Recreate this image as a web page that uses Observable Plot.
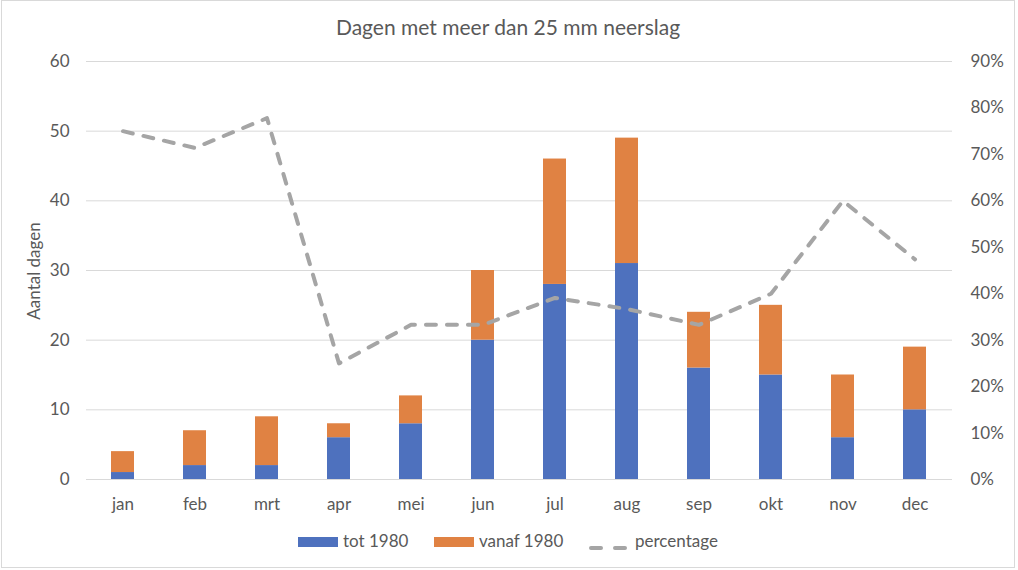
<!DOCTYPE html>
<html>
<head>
<meta charset="utf-8">
<script src="https://cdn.jsdelivr.net/npm/d3@7"></script>
<script src="https://cdn.jsdelivr.net/npm/@observablehq/plot@0.6"></script>
<style>
  html, body { margin: 0; padding: 0; background: #fff; }
  #chart { position: relative; width: 1018px; height: 570px; font-family: Lato, sans-serif; color: #595959; overflow: hidden; }
  #frame { position: absolute; left: 1px; top: 0; width: 1014px; height: 568px; border: 1px solid #d9d9d9; box-sizing: border-box; }
  #title { position: absolute; left: 0; width: 1016px; top: 16px; text-align: center; font-size: 21px; line-height: 21px; white-space: nowrap; }
  #plot { position: absolute; left: 0; top: 0; }
  #ylabel { position: absolute; left: 33px; top: 271px; font-size: 17px; line-height: 17px; white-space: nowrap; transform: translate(-50%, -50%) rotate(-90deg); }
  .leg { position: absolute; top: 532px; font-size: 17px; line-height: 17px; white-space: nowrap; }
  .sw { position: absolute; top: 537px; width: 40px; height: 10px; }
</style>
</head>
<body>
<div id="chart">
  <div id="frame"></div>
  <div id="plot"></div>
  <div id="title"></div>
  <div id="ylabel"></div>
  <div id="legend"></div>
</div>
<script>
const titleText = "Dagen met meer dan 25 mm neerslag";
const yTitle = "Aantal dagen";
const months = ["jan","feb","mrt","apr","mei","jun","jul","aug","sep","okt","nov","dec"];
const seriesNames = ["tot 1980", "vanaf 1980", "percentage"];
const tot1980 = [1, 2, 2, 6, 8, 20, 28, 31, 16, 15, 6, 10];
const vanaf1980 = [3, 5, 7, 2, 4, 10, 18, 18, 8, 10, 9, 9];
const percentage = [75, 71.4, 77.8, 25, 33.3, 33.3, 39.1, 36.7, 33.3, 40, 60, 47.4];
const leftTicks = [0, 10, 20, 30, 40, 50, 60];
const rightTicks = [0, 10, 20, 30, 40, 50, 60, 70, 80, 90];
const colors = ["#4e71be", "#e08243", "#a5a5a5"];

const leftMax = 60, rightMax = 90;
const toLeft = p => p * leftMax / rightMax;

const bars = months.flatMap((m, i) => [
  {month: m, series: seriesNames[0], value: tot1980[i]},
  {month: m, series: seriesNames[1], value: vanaf1980[i]}
]);
const pctData = months.map((m, i) => ({month: m, y: toLeft(percentage[i])}));

const plot = Plot.plot({
  width: 1018, height: 520,
  marginLeft: 86, marginRight: 66, marginTop: 61, marginBottom: 41,
  style: {fontFamily: "Lato, sans-serif", fontSize: "17px", color: "#595959", background: "transparent", overflow: "visible"},
  x: {domain: months, paddingInner: 0.68, paddingOuter: 0.34},
  y: {domain: [0, leftMax]},
  color: {domain: seriesNames.slice(0, 2), range: colors.slice(0, 2)},
  marks: [
    Plot.ruleY(leftTicks, {stroke: "#d9d9d9", strokeWidth: 1}),
    Plot.barY(bars, {x: "month", y: "value", fill: "series"}),
    Plot.line(pctData, {x: "month", y: "y", stroke: colors[2], strokeWidth: 4, strokeDasharray: "10,11", strokeLinecap: "round", strokeLinejoin: "round"}),
    Plot.axisX({tickSize: 0, tickPadding: 18, label: null, fontSize: 17}),
    Plot.axisY({anchor: "left", ticks: leftTicks, tickSize: 0, tickPadding: 17, label: null, fontSize: 17}),
    Plot.axisY({anchor: "right", ticks: rightTicks.map(toLeft), tickFormat: d => Math.round(d * rightMax / leftMax) + "%", tickSize: 0, tickPadding: 18, label: null, fontSize: 17})
  ]
});
document.getElementById("plot").appendChild(plot);
document.getElementById("title").textContent = titleText;
document.getElementById("ylabel").textContent = yTitle;

// legend
const legend = document.getElementById("legend");
const legItems = [
  {sw: 298, tx: 343, kind: "rect"},
  {sw: 434, tx: 479, kind: "rect"},
  {sw: 589, tx: 635, kind: "dash"}
];
legItems.forEach((it, i) => {
  const sw = document.createElement("div");
  sw.className = "sw";
  sw.style.left = it.sw + "px";
  if (it.kind === "rect") {
    sw.style.background = colors[i];
  } else {
    sw.innerHTML = `<svg width="40" height="10"><line x1="2" y1="5" x2="38" y2="5" stroke="${colors[i]}" stroke-width="4" stroke-dasharray="10,14" stroke-linecap="round"/></svg>`;
  }
  legend.appendChild(sw);
  const t = document.createElement("div");
  t.className = "leg";
  t.style.left = it.tx + "px";
  t.textContent = seriesNames[i];
  legend.appendChild(t);
});
</script>
</body>
</html>
